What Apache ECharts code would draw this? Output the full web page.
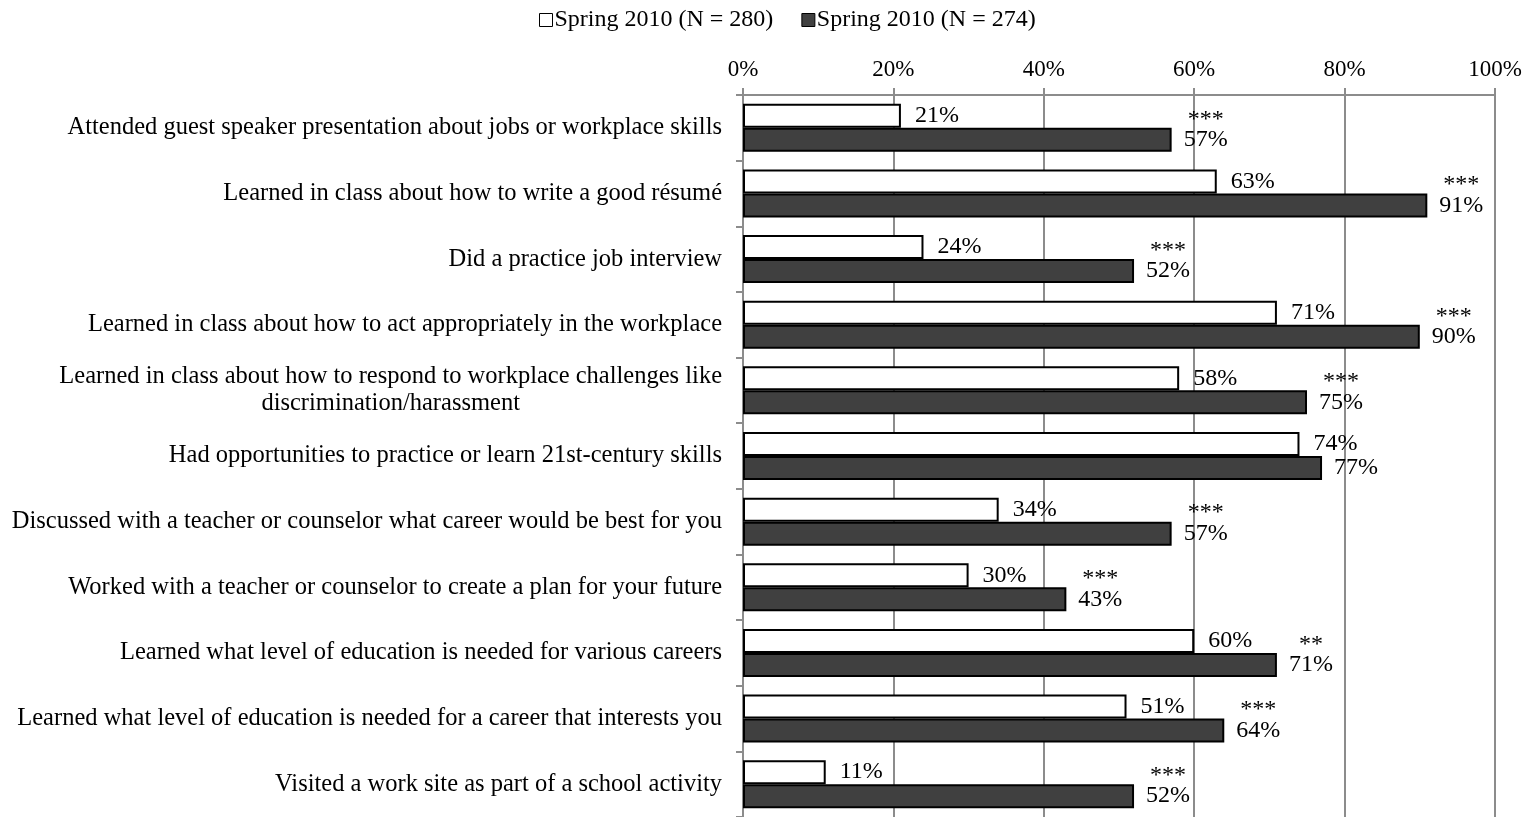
<!DOCTYPE html>
<html>
<head>
<meta charset="utf-8">
<title>Career activities</title>
<script src="https://cdn.jsdelivr.net/npm/echarts@6/dist/echarts.min.js"></script>
<style>
  html, body { margin: 0; padding: 0; background: #fff; }
  #chart { width: 1532px; height: 817px; }
</style>
</head>
<body>
<div id="chart"></div>
<script>
const categories = [
  "Attended guest speaker presentation about jobs or workplace skills",
  "Learned in class about how to write a good résumé",
  "Did a practice job interview",
  "Learned in class about how to act appropriately in the workplace",
  "Learned in class about how to respond to workplace challenges like\ndiscrimination/harassment",
  "Had opportunities to practice or learn 21st-century skills",
  "Discussed with a teacher or counselor what career would be best for you",
  "Worked with a teacher or counselor to create a plan for your future",
  "Learned what level of education is needed for various careers",
  "Learned what level of education is needed for a career that interests you",
  "Visited a work site as part of a school activity"
];
const seriesNames = ["Spring 2010 (N = 280)", "Spring 2010 (N = 274)"];
const firstValues = [21, 63, 24, 71, 58, 74, 34, 30, 60, 51, 11];
const secondValues = [57, 91, 52, 90, 75, 77, 57, 43, 71, 64, 52];
const significance = ["***", "***", "***", "***", "***", "", "***", "***", "**", "***", "***"];
const xTicks = [0, 20, 40, 60, 80, 100];

const font = "'Liberation Serif', 'Times New Roman', serif";
const fs = 23;      // axis ticks
const catFs = 24.5; // category names
const valFs = 24;   // bar labels

const chart = echarts.init(document.getElementById("chart"));
const option = {
  animation: false,
  textStyle: { fontFamily: font, color: "#000" },
  legend: {
    top: 3,
    left: 534,
    itemWidth: 13,
    itemHeight: 13,
    itemGap: 28,
    icon: "rect",
    textStyle: { fontFamily: font, fontSize: valFs, color: "#000", padding: [0, 0, 0, -3] },
    data: [
      { name: seriesNames[0], itemStyle: { color: "#fff", borderColor: "#000", borderWidth: 1 } },
      { name: seriesNames[1], itemStyle: { color: "#404040", borderColor: "#000", borderWidth: 1 } }
    ]
  },
  grid: { left: 743, right: 37, top: 95, bottom: -2 },
  xAxis: {
    type: "value",
    position: "top",
    min: 0,
    max: xTicks[xTicks.length - 1],
    interval: 20,
    axisLine: { show: true, lineStyle: { color: "#8c8c8c", width: 2 } },
    axisTick: { show: true, length: 7, lineStyle: { color: "#8c8c8c", width: 2 } },
    axisLabel: {
      margin: 14,
      fontFamily: font,
      fontSize: fs,
      color: "#000",
      formatter: v => v + "%"
    },
    splitLine: { show: true, lineStyle: { color: "#8c8c8c", width: 2 } }
  },
  yAxis: {
    type: "category",
    inverse: true,
    data: categories,
    axisLine: { show: true, lineStyle: { color: "#8c8c8c", width: 2 } },
    axisTick: { show: true, length: 7, lineStyle: { color: "#8c8c8c", width: 2 } },
    axisLabel: {
      margin: 21,
      fontFamily: font,
      fontSize: catFs,
      color: "#000",
      formatter: v => v.split("\n").map(s => "{c|" + s + "}").join("\n"),
      rich: {
        c: { align: "center", fontFamily: font, fontSize: catFs, color: "#000", lineHeight: 27 }
      }
    }
  },
  series: [
    {
      name: seriesNames[0],
      type: "bar",
      data: firstValues,
      barWidth: 24,
      barGap: "0%",
      itemStyle: { color: "#fff", borderColor: "#000", borderWidth: 2 },
      label: {
        show: true,
        position: "right",
        distance: 14,
        fontFamily: font,
        fontSize: valFs,
        color: "#000",
        formatter: p => p.value + "%"
      }
    },
    {
      name: seriesNames[1],
      type: "bar",
      data: secondValues.map((v, i) => ({
        value: v,
        label: significance[i] ? { offset: [0, -10] } : {}
      })),
      barWidth: 24,
      itemStyle: { color: "#404040", borderColor: "#000", borderWidth: 2 },
      label: {
        show: true,
        position: "right",
        distance: 12,
        fontFamily: font,
        fontSize: valFs,
        color: "#000",
        formatter: p => {
          const s = significance[p.dataIndex];
          return s ? "{s|" + s + "}\n{v|" + p.value + "%}" : "{v|" + p.value + "%}";
        },
        rich: {
          s: { fontFamily: font, fontSize: valFs, color: "#000", lineHeight: 20, align: "center" },
          v: { fontFamily: font, fontSize: valFs, color: "#000", lineHeight: 21, align: "center" }
        }
      }
    }
  ]
};
chart.setOption(option);
</script>
</body>
</html>
